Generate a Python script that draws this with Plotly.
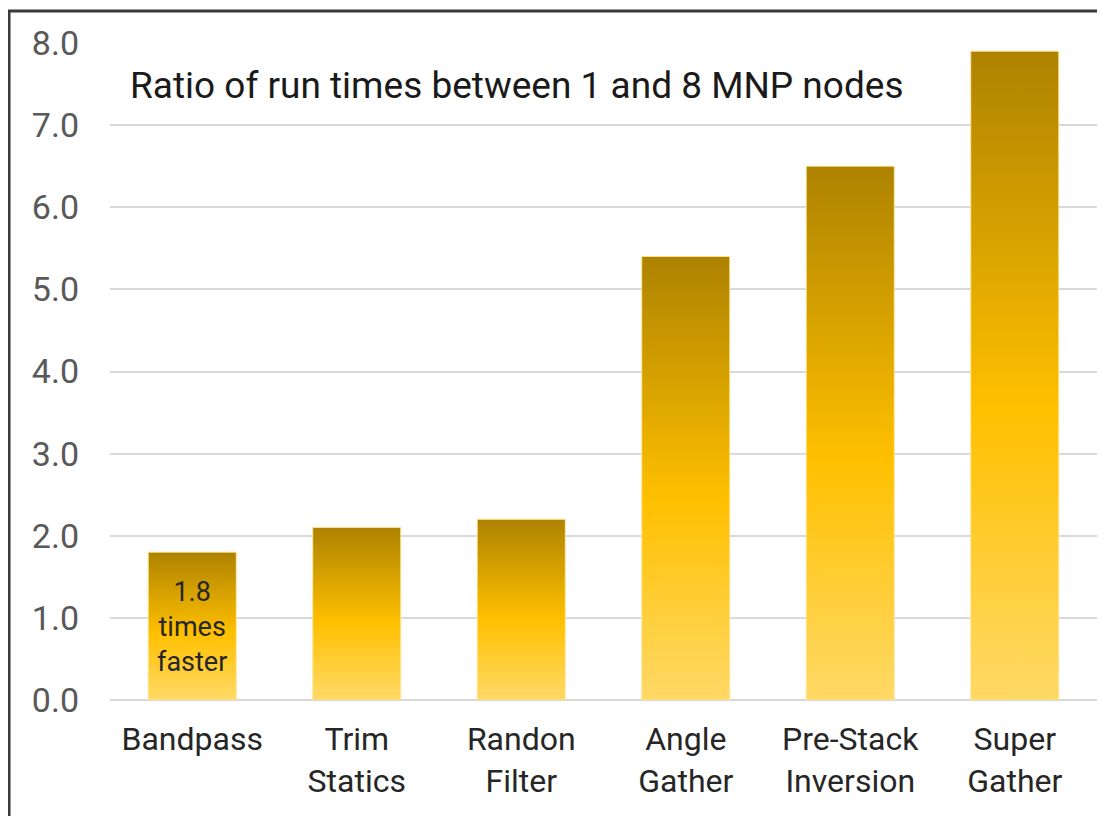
import plotly.graph_objects as go

categories = ["Bandpass", "Trim<br>Statics", "Randon<br>Filter", "Angle<br>Gather", "Pre-Stack<br>Inversion", "Super<br>Gather"]
values = [1.8, 2.1, 2.2, 5.4, 6.5, 7.9]
y_ticks = [0, 1, 2, 3, 4, 5, 6, 7, 8]
title_text = "Ratio of run times between 1 and 8 MNP nodes"
bar_note = "1.8<br>times<br>faster"

bar_width = 0.535
gradient = [[0.0, "#FFD966"], [0.45, "#FFC000"], [1.0, "#AD8200"]]

fig = go.Figure()
for i, v in enumerate(values):
    x0, x1 = i - bar_width / 2, i + bar_width / 2
    fig.add_trace(go.Scatter(
        x=[x0, x1, x1, x0, x0],
        y=[0, 0, v, v, 0],
        mode="lines",
        fill="toself",
        fillgradient=dict(type="vertical", colorscale=gradient),
        line=dict(color="rgba(255,230,150,0.9)", width=1),
        hoverinfo="skip",
        showlegend=False,
    ))

fig.add_annotation(x=0, y=0.89, xref="x", yref="y", text=bar_note, showarrow=False,
                   font=dict(family="Roboto", size=27, color="#262626"), align="center")
fig.add_annotation(x=0.018, y=0.936, xref="paper", yref="paper", text=title_text,
                   showarrow=False, xanchor="left", yanchor="middle",
                   font=dict(family="Roboto", size=37, color="#1a1a1a"))

# outer frame
fig.add_shape(type="rect", xref="paper", yref="paper",
              x0=-0.1023, x1=1.06, y0=-0.3, y1=1.0487,
              line=dict(color="#3a3a3a", width=3), layer="above")

fig.update_layout(
    width=1105, height=816,
    margin=dict(l=102, r=16, t=35, b=124),
    plot_bgcolor="white", paper_bgcolor="white",
    font=dict(family="Roboto"),
    xaxis=dict(range=[-0.5, 5.5], tickvals=list(range(len(categories))), ticktext=categories,
               showgrid=False, zeroline=False, showline=False, ticks="",
               tickfont=dict(size=32, color="#262626"), ticklabelstandoff=17),
    yaxis=dict(range=[0, 8.0], tickvals=y_ticks, tickformat=".1f",
               showgrid=True, gridcolor="#D9D9D9", gridwidth=2,
               zeroline=True, zerolinecolor="#D9D9D9", zerolinewidth=2,
               showline=False, ticks="",
               tickfont=dict(size=34, color="#595959"), ticklabelstandoff=30),
)

fig.write_html("out.html")
